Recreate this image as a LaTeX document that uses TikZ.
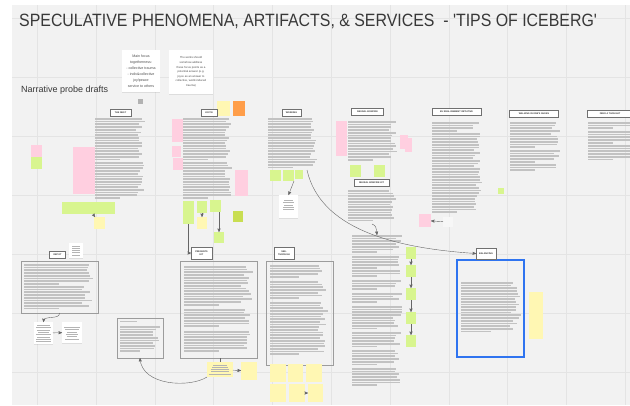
\documentclass[tikz,border=0pt]{standalone}
\usepackage{fontspec}
\setmainfont{Liberation Sans}
\usetikzlibrary{arrows,shadows}

\definecolor{board}{HTML}{F2F2F2}
\definecolor{gridline}{HTML}{E4E4E4}
\definecolor{pinkpad}{HTML}{FFCFE0}
\definecolor{greenpad}{HTML}{D8F58F}
\definecolor{yellowpad}{HTML}{FFF7B3}
\definecolor{orangepad}{HTML}{FF9E4A}
\definecolor{olivepad}{HTML}{C9DE52}
\definecolor{txtgray}{HTML}{C2C2C2}
\definecolor{inkgray}{HTML}{B4B4B4}
\definecolor{framegray}{HTML}{9C9C9C}
\definecolor{hdrgray}{HTML}{707070}
\definecolor{selblue}{HTML}{2F74F0}

% rows of greyed-out text: x, y, width, rows
\newcommand{\textrows}[4]{%
  \foreach \i in {1,...,#4}{
    \pgfmathsetmacro{\len}{\i==#4 ? 0.5*#3 : #3*(0.82+0.18*rnd)}
    \fill[txtgray] (#1,{#2+(\i-1)*2.7}) rectangle ++(\len,1.7);
  }}
% tiny centred rows on cards: centre x, y, width, rows
\newcommand{\cardrows}[4]{%
  \foreach \i in {1,...,#4}{
    \pgfmathsetmacro{\len}{#3*(0.6+0.4*rnd)}
    \fill[inkgray] ({#1-\len/2},{#2+(\i-1)*2.3}) rectangle ++(\len,0.6);
  }}

\begin{document}
\begin{tikzpicture}[x=1pt,y=-1pt,
  note/.style={inner sep=0, outer sep=0, anchor=north west},
  pinknote/.style={note, fill=pinkpad},
  greennote/.style={note, fill=greenpad},
  yellownote/.style={note, fill=yellowpad},
  block/.style={note},
  frame/.style={note, draw=framegray, line width=0.6},
  card/.style={note, fill=white, drop shadow={opacity=0.18, shadow xshift=0pt, shadow yshift=-1.3pt}},
  hdr/.style={draw=hdrgray, line width=0.9, fill=white, inner sep=0.6, outer sep=0,
    font=\fontsize{2.3}{2.7}\selectfont\bfseries, text=black!80, align=center},
  link/.style={->, >=stealth', line width=0.4, draw=black!60}]

  \pgfmathsetseed{11}
  \useasboundingbox (0,0) rectangle (630,405);
  \clip (0,0) rectangle (630,405);

  \fill[board] (12,5) rectangle (630,405);
  \foreach \gx in {0,...,10}
    \draw[gridline, line width=0.8] ({37.3+58.8*\gx},5) -- ++(0,400);
  \foreach \gy in {0,...,6}
    \draw[gridline, line width=0.8] (12,{18+59*\gy}) -- (630,{18+59*\gy});

  \node[anchor=west, inner sep=0, text=black!78, font=\fontsize{15.9}{18}\selectfont] (title) at (19,21.5)
    {\scalebox{1}[1.12]{SPECULATIVE PHENOMENA, ARTIFACTS, \& SERVICES\ \ - \textquotesingle TIPS OF ICEBERG\textquotesingle}};
  \node[anchor=west, inner sep=0, text=black!78, font=\fontsize{9}{11}\selectfont] (drafts) at (21,90) {Narrative probe drafts};

  \node[card, minimum width=38, minimum height=42] (focus) at (122,50) {};
  \node[align=center, inner sep=0, text=black!70, font=\fontsize{3.6}{6}\selectfont] at (focus.center)
    {Main focus\\togetherness:\\- collective trauma\\- indiv\&collective\\joy/peace\\service to others};
  \node[card, minimum width=44, minimum height=44] (works) at (169,50) {};
  \node[align=center, inner sep=0, text=black!70, font=\fontsize{2.8}{4.6}\selectfont] at (works.center)
    {The works should\\somehow address\\these focus points as a\\potential answer (e.g.\\joyce as an answer to\\collective, world-induced\\trauma)};
  \fill[black!30] (138,99) rectangle (143,104);

  % top row of columns
  \node[block, minimum width=50, minimum height=82] (nesttext) at (95,118) {};
  \textrows{95}{118}{50}{16}
  \textrows{95}{162}{50}{14}
  \node[block, minimum width=50, minimum height=82] (joycetext) at (183,118) {};
  \textrows{183}{118}{50}{16}
  \textrows{183}{162}{50}{14}
  \node[block, minimum width=50, minimum height=50] (wktext) at (268,118) {};
  \textrows{268}{118}{50}{19}
  \node[block, minimum width=50, minimum height=40] (bftext) at (348,121) {};
  \textrows{348}{121}{50}{15}
  \node[block, minimum width=50, minimum height=32] (kittext) at (348,190) {};
  \textrows{348}{190}{50}{12}
  \node[block, minimum width=50, minimum height=150] (kitlong) at (352,235) {};
  \textrows{352}{235}{50}{7}
  \textrows{352}{256}{50}{5}
  \textrows{352}{270}{50}{3}
  \textrows{352}{280}{50}{4}
  \textrows{352}{293}{50}{4}
  \textrows{352}{306}{50}{9}
  \textrows{352}{332}{50}{6}
  \textrows{352}{350}{50}{6}
  \textrows{352}{368}{50}{7}
  \node[block, minimum width=50, minimum height=91] (eutext) at (432,122) {};
  \textrows{432}{122}{50}{4}
  \textrows{432}{133}{50}{30}
  \node[block, minimum width=50, minimum height=49] (walktext) at (510,122) {};
  \textrows{510}{122}{50}{10}
  \textrows{510}{150}{50}{5}
  \textrows{510}{164}{50}{3}
  \node[block, minimum width=50, minimum height=38] (feedtext) at (588,122) {};
  \textrows{588}{122}{50}{3}
  \textrows{588}{131}{50}{5}
  \textrows{588}{145}{50}{6}

  \node[pinknote, minimum width=22, minimum height=47] (np1) at (73,147) {};
  \node[pinknote, minimum width=11, minimum height=12] (np2) at (31,145) {};
  \node[greennote, minimum width=11, minimum height=12] (ng1) at (31,157) {};
  \node[greennote, minimum width=53, minimum height=12] (ng2) at (62,202) {};
  \node[yellownote, minimum width=11, minimum height=12] (ny1) at (94,217) {};

  \node[yellownote, minimum width=13, minimum height=15] (jy0) at (217,101) {};
  \node[note, fill=orangepad, minimum width=12, minimum height=15] (jo) at (233,101) {};
  \node[pinknote, minimum width=11, minimum height=23] (jp1) at (172,119) {};
  \node[pinknote, minimum width=9, minimum height=11] (jp2) at (172,146) {};
  \node[pinknote, minimum width=10, minimum height=12] (jp3) at (173,158) {};
  \node[pinknote, minimum width=13, minimum height=26] (jp4) at (235,170) {};
  \node[greennote, minimum width=11, minimum height=23] (jg1) at (183,201) {};
  \node[greennote, minimum width=10, minimum height=12] (jg2) at (197,201) {};
  \node[yellownote, minimum width=10, minimum height=12] (jy1) at (197,217) {};
  \node[greennote, minimum width=11, minimum height=12] (jg3) at (210,200) {};
  \node[greennote, minimum width=10, minimum height=11] (jg4) at (214,232) {};
  \node[note, fill=olivepad, minimum width=10, minimum height=11] (jg5) at (233,211) {};

  \node[greennote, minimum width=11, minimum height=11] (wg1) at (270,170) {};
  \node[greennote, minimum width=11, minimum height=11] (wg2) at (283,170) {};
  \node[greennote, minimum width=8, minimum height=9] (wg3) at (295,170) {};
  \node[card, minimum width=19, minimum height=23] (wcard) at (279,195) {};
  \cardrows{288.5}{200}{14}{5}

  \node[pinknote, minimum width=11, minimum height=35] (bp1) at (336,121) {};
  \node[pinknote, minimum width=8, minimum height=14] (bp2) at (400,135) {};
  \node[pinknote, minimum width=7, minimum height=14] (bp3) at (405,138) {};
  \node[greennote, minimum width=11, minimum height=12] (bg1) at (350,165) {};
  \node[greennote, minimum width=11, minimum height=12] (bg2) at (374,165) {};
  \node[greennote, minimum width=10, minimum height=12] (kg1) at (406,247) {};
  \node[greennote, minimum width=10, minimum height=12] (kg2) at (406,265) {};
  \node[greennote, minimum width=10, minimum height=12] (kg3) at (406,288) {};
  \node[greennote, minimum width=10, minimum height=12] (kg4) at (406,312) {};
  \node[greennote, minimum width=10, minimum height=12] (kg5) at (406,335) {};
  \node[pinknote, minimum width=12, minimum height=13] (kp) at (419,214) {};
  \node[note, fill=white!97!black, minimum width=10, minimum height=10] (kcard) at (443,217) {};
  \node[greennote, minimum width=6, minimum height=6] (eg) at (498,188) {};

  % bottom row
  \node[frame, minimum width=77, minimum height=52] (depotbox) at (21,261) {};
  \textrows{24}{264}{70}{8}
  \textrows{24}{286}{70}{9}
  \node[card, minimum width=14, minimum height=15] (dcard0) at (69,243) {};
  \cardrows{76}{245.5}{11}{5}
  \node[card, minimum width=19, minimum height=22] (dcard1) at (34,322) {};
  \cardrows{43.5}{325}{16}{8}
  \node[card, minimum width=20, minimum height=21] (dcard2) at (62,322) {};
  \cardrows{72}{327}{16}{6}

  \node[frame, minimum width=46, minimum height=40] (box2) at (117,318) {};
  \fill[txtgray] (120,321) rectangle ++(17,1.3);
  \textrows{120}{326}{40}{10}

  \node[frame, minimum width=77, minimum height=97] (presbox) at (180,261) {};
  \textrows{184}{266}{69}{15}
  \textrows{184}{309}{69}{7}
  \textrows{184}{331}{69}{8}
  \node[yellownote, minimum width=26, minimum height=15] (ynote) at (207,362) {};
  \cardrows{220}{364.5}{22}{5}
  \node[yellownote, minimum width=16, minimum height=18] (ysq) at (241,362) {};

  \node[frame, minimum width=67, minimum height=104] (seebox) at (266,261) {};
  \textrows{270}{265}{58}{5}
  \textrows{270}{281}{58}{7}
  \textrows{270}{302}{58}{20}
  \node[yellownote, minimum width=16, minimum height=18] (yg1) at (270,364) {};
  \node[yellownote, minimum width=15, minimum height=18] (yg2) at (288,364) {};
  \node[yellownote, minimum width=16, minimum height=18] (yg3) at (306,364) {};
  \node[yellownote, minimum width=16, minimum height=18] (yg4) at (270,384) {};
  \node[yellownote, minimum width=16, minimum height=18] (yg5) at (289,384) {};
  \node[yellownote, minimum width=15, minimum height=18] (yg6) at (308,384) {};

  \node[frame, draw=selblue, line width=1.3, minimum width=67, minimum height=97] (balbox) at (457,260) {};
  \textrows{461}{282}{60}{19}
  \node[yellownote, minimum width=14, minimum height=47] (balnote) at (529,292) {};

  % column headers
  \node[hdr, minimum width=21, minimum height=7] (nest) at (120.5,112.5) {THE NEST};
  \node[hdr, minimum width=16, minimum height=7] (joyce) at (209,112.5) {JOYCE};
  \node[hdr, minimum width=19, minimum height=7] (working) at (291.5,112.5) {WORKING};
  \node[hdr, minimum width=32, minimum height=7] (bonfire) at (367.5,112) {NEURAL BONFIRE};
  \node[hdr, minimum width=49, minimum height=7] (realign) at (456.5,112) {EU REALIGNMENT INITIATIVE};
  \node[hdr, minimum width=49, minimum height=7] (walking) at (534,113.5) {WALKING IN ONE\textquotesingle S SHOES};
  \node[hdr, minimum width=46, minimum height=7] (feed) at (610,113.5) {FEED A THOUGHT};
  \node[hdr, minimum width=35, minimum height=7] (bonfirekit) at (371.5,183) {NEURAL BONFIRE KIT};
  \node[hdr, minimum width=16, minimum height=7] (depot) at (57.5,255) {DEPOT};
  \node[hdr, minimum width=21, minimum height=12] (presents) at (201.5,253) {PRESENTS\\KIT};
  \node[hdr, minimum width=20, minimum height=12] (seethrough) at (284,253) {SEE-\\THROUGH};
  \node[hdr, minimum width=20, minimum height=11] (balancing) at (486,253.5) {BALANCING};

  \coordinate (wkstart) at (307,170);
  \coordinate (hook) at (372,224);

  \draw [link] (ng2) -- (ny1);
  \draw [link] (jg2) -- (jy1);
  \draw [link] (jg3.south -| jg4.north) -- (jg4.north);
  \draw [link] (jg1.south) |- (presents.west);
  \draw [link] (wg2.south east) -- (wcard.north);
  \draw [link] (wkstart) .. controls (320,228) and (392,248) .. (balancing.west);
  \draw [link] (hook) .. controls (376,226) .. (kitlong.north);
  \draw [link] (kg1) -- (kg2);
  \draw [link] (kg2) -- (kg3);
  \draw [link] (kg3) -- (kg4);
  \draw [link] (kg4) -- (kg5);
  \draw [link] (kcard) -- (kp);
  \draw [link] (depotbox.south) .. controls (60,320) and (44,315) .. (dcard1.north);
  \draw [link] (dcard1) -- (dcard2);
  \draw [link, -] (presbox.south -| ynote.north) -- (ynote.north);
  \draw [link] (ynote) -- (ysq);
  \draw [link] (ynote.south west) .. controls (190,388) and (142,386) .. (box2.south);
  \draw [link] (yg5) -- (yg6);

\end{tikzpicture}
\end{document}
